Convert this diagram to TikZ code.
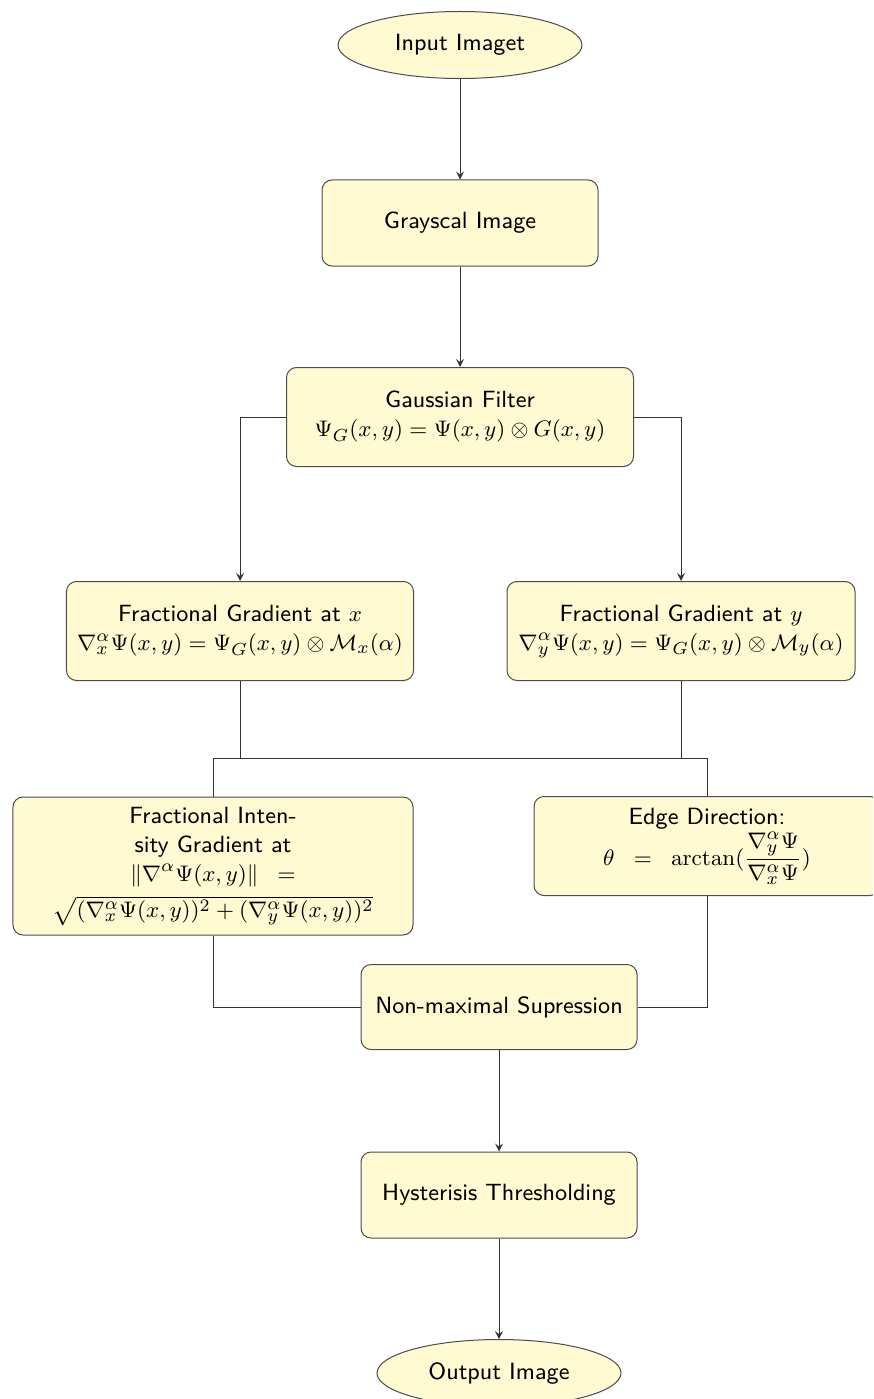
\documentclass[tikz,border=0pt]{standalone}
\usepackage{amsmath, amssymb}
\usepackage{tikz}
\usetikzlibrary{shapes.geometric, positioning, calc}
\definecolor{boxfill}{RGB}{255,250,210}

\begin{document}
\begin{tikzpicture}[>=stealth, x=0.4pt, y=-0.4pt,
    every node/.style={font=\fontsize{9.4}{11.6}\selectfont\sffamily},
    procbox/.style={draw=black!70, fill=boxfill, rounded corners=4pt, align=center, inner sep=2pt},
    termnode/.style={ellipse, draw=black!70, fill=boxfill, minimum width=97.6pt, minimum height=26.8pt, inner sep=1pt},
    flow/.style={draw=black!80}]

        \clip (0, 0) rectangle (873, 1399);
        %\draw[help lines] (0, 0) grid (873, 1399);

        \node[termnode] (input) at (460, 45) {Input Imaget};
        \node[procbox, minimum width=110.4pt, minimum height=34.4pt] (gray) at (460, 223) {Grayscal Image};
        \node[procbox, minimum width=138.8pt, minimum height=39.6pt] (gauss) at (460, 417)
            {Gaussian Filter\\ $\Psi_G(x,y) = \Psi(x,y) \otimes G(x,y)$};
        \node[procbox, minimum width=138.8pt, minimum height=39.6pt] (fgx) at (240, 631)
            {Fractional Gradient at $x$\\ $\nabla^{\alpha}_{x}\Psi(x,y) = \Psi_G(x,y) \otimes \mathcal{M}_x(\alpha)$};
        \node[procbox, minimum width=139.2pt, minimum height=39.6pt] (fgy) at (681, 631)
            {Fractional Gradient at $y$\\ $\nabla^{\alpha}_{y}\Psi(x,y) = \Psi_G(x,y) \otimes \mathcal{M}_y(\alpha)$};
        \node[procbox, minimum width=160pt, minimum height=55.2pt, inner sep=1pt] (mag) at (213, 866)
            {Fractional Inten-\\ sity Gradient at\\ $\|\nabla^{\alpha}\Psi(x,y)\|\;\;=$\\[3pt]
             $\sqrt{(\nabla^{\alpha}_{x}\Psi(x,y))^2 + (\nabla^{\alpha}_{y}\Psi(x,y))^2}$};
        \node[procbox, minimum width=138.4pt, minimum height=39.6pt, inner sep=1pt] (edge) at (707, 846)
            {Edge Direction:\\ $\theta \;\;=\;\; \arctan(\dfrac{\nabla^{\alpha}_{y}\Psi}{\nabla^{\alpha}_{x}\Psi})$};
        \node[procbox, minimum width=110.4pt, minimum height=34pt] (nms) at (499, 1007) {Non-maximal Supression};
        \node[procbox, minimum width=110.4pt, minimum height=34.4pt] (hyst) at (499, 1195) {Hysterisis Thresholding};
        \node[termnode] (output) at (499, 1373) {Output Image};

        \coordinate (jl) at (213, 758);
        \coordinate (jr) at (707, 758);

        \draw[flow, ->] (input) -- (gray);
        \draw[flow, ->] (gray) -- (gauss);
        \draw[flow, ->] (gauss.west) -| (fgx.north);
        \draw[flow, ->] (gauss.east) -| (fgy.north);

        \draw[flow] (fgx.south) -- (fgx.south |- jl);
        \draw[flow] (fgy.south) -- (fgy.south |- jr);
        \draw[flow] (jl) -- (jr);
        \draw[flow] (jl) -- (mag.north);
        \draw[flow] (jr) -- (edge.north);

        \draw[flow] (mag.south) |- (nms.west);
        \draw[flow] (edge.south) |- (nms.east);
        \draw[flow, ->] (nms) -- (hyst);
        \draw[flow, ->] (hyst) -- (output);
      \end{tikzpicture}
\end{document}
